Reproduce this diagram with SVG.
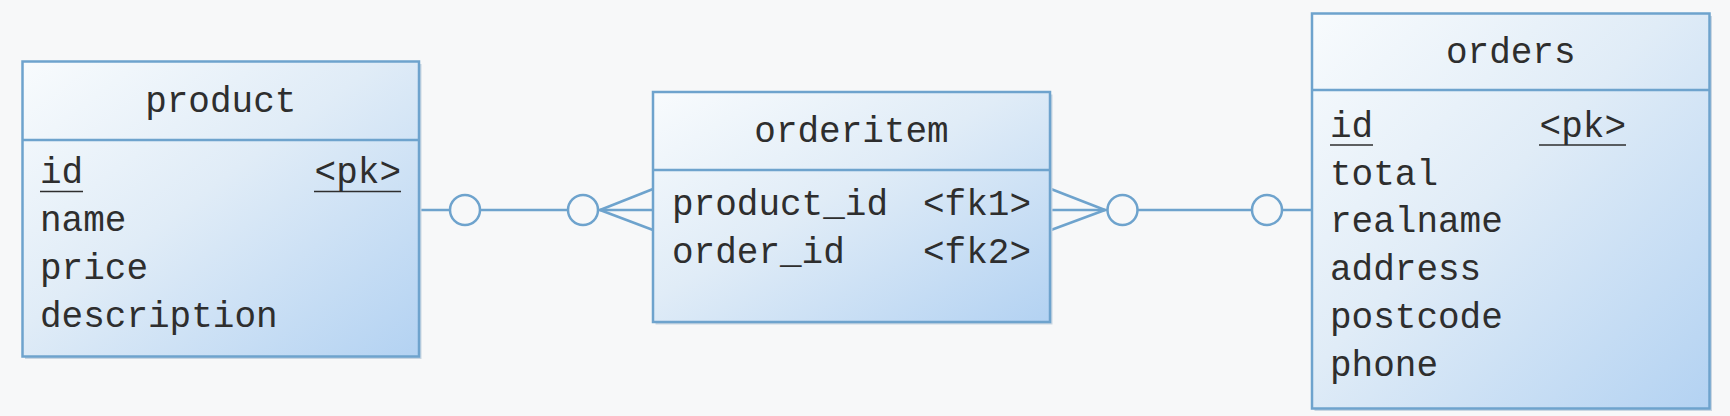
<svg xmlns="http://www.w3.org/2000/svg" width="1730" height="416" viewBox="0 0 1730 416">
<defs>
<linearGradient id="boxfill" x1="0" y1="0" x2="1" y2="1">
<stop offset="0" stop-color="#f8fbfd"/>
<stop offset="0.45" stop-color="#e0ecf7"/>
<stop offset="1" stop-color="#b3d2f2"/>
</linearGradient>
<style>
.box{fill:url(#boxfill);stroke:#6ea3cd;stroke-width:2.5}
.div{stroke:#6ea3cd;stroke-width:2.5}
.shadow{fill:#c9d6e2}
text{font-family:"Liberation Mono","DejaVu Sans Mono",monospace;font-size:36px;fill:#2e2e2e}
.title{text-anchor:middle}
.key{text-anchor:end}
.ul{stroke:#2e2e2e;stroke-width:1.6}
.conn{stroke:#6ea3cd;stroke-width:2.5;fill:none}
.opt{stroke:#6ea3cd;stroke-width:2.5;fill:#f7f8f9}
</style>
</defs>
<rect width="1730" height="416" fill="#f7f8f9"/>

<g id="connectors">
<line class="conn" x1="419" y1="210" x2="653" y2="210"/>
<line class="conn" x1="600" y1="210" x2="653" y2="189"/>
<line class="conn" x1="600" y1="210" x2="653" y2="230"/>
<circle class="opt" cx="465" cy="210" r="15"/>
<circle class="opt" cx="583" cy="210" r="15"/>
<line class="conn" x1="1051" y1="210" x2="1312" y2="210"/>
<line class="conn" x1="1105" y1="210" x2="1051" y2="189"/>
<line class="conn" x1="1105" y1="210" x2="1051" y2="230"/>
<circle class="opt" cx="1122.5" cy="210" r="15"/>
<circle class="opt" cx="1267" cy="210" r="15"/>
</g>

<g id="product">
<rect class="shadow" x="25" y="64" width="396.5" height="295"/>
<rect class="box" x="22.5" y="61.5" width="396.5" height="295"/>
<line class="div" x1="22.5" y1="140" x2="419" y2="140"/>
<text class="title" x="220.75" y="112">product</text>
<text x="40" y="183">id</text>
<line class="ul" x1="40" y1="191.5" x2="83" y2="191.5"/>
<text class="key" x="401" y="183">&lt;pk&gt;</text>
<line class="ul" x1="314" y1="191.5" x2="401" y2="191.5"/>
<text x="40" y="231">name</text>
<text x="40" y="279">price</text>
<text x="40" y="327">description</text>
</g>

<g id="orderitem">
<rect class="shadow" x="655.5" y="94.5" width="397" height="230"/>
<rect class="box" x="653" y="92" width="397" height="230"/>
<line class="div" x1="653" y1="170" x2="1050" y2="170"/>
<text class="title" x="851.5" y="142">orderitem</text>
<text x="672" y="215">product_id</text>
<text class="key" x="1031" y="215">&lt;fk1&gt;</text>
<text x="672" y="263">order_id</text>
<text class="key" x="1031" y="263">&lt;fk2&gt;</text>
</g>

<g id="orders">
<rect class="shadow" x="1314.5" y="16" width="397.5" height="395"/>
<rect class="box" x="1312" y="13.5" width="397.5" height="395"/>
<line class="div" x1="1312" y1="90" x2="1709.5" y2="90"/>
<text class="title" x="1510.75" y="63">orders</text>
<text x="1330" y="137">id</text>
<line class="ul" x1="1330" y1="145" x2="1373" y2="145"/>
<text class="key" x="1626" y="137">&lt;pk&gt;</text>
<line class="ul" x1="1539" y1="145" x2="1626" y2="145"/>
<text x="1330" y="185">total</text>
<text x="1330" y="232">realname</text>
<text x="1330" y="280">address</text>
<text x="1330" y="328">postcode</text>
<text x="1330" y="376">phone</text>
</g>
</svg>
